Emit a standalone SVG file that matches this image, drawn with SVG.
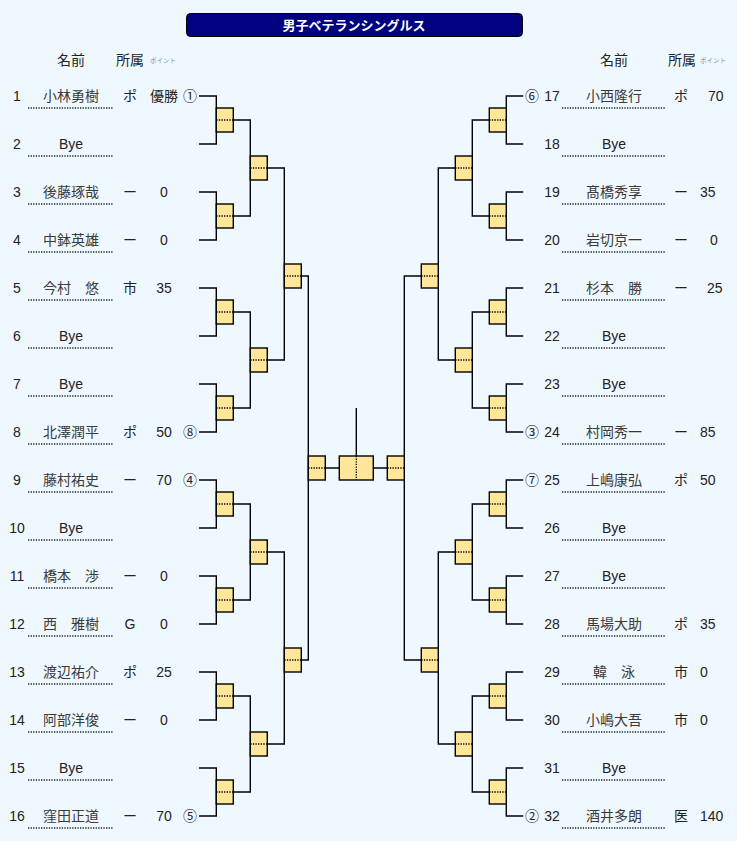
<svg xmlns="http://www.w3.org/2000/svg" width="737" height="841" viewBox="0 0 737 841">
<style>
.ln{fill:none;stroke:#000;stroke-width:1.4}
.bx{fill:#FFE699;stroke:#000;stroke-width:1.4}
.dt{stroke:#000;stroke-width:1.3;stroke-dasharray:1.3 1.3}
.ul{stroke:#222;stroke-width:1.3;stroke-dasharray:1.3 1.3}
.t{font-family:"Liberation Sans","Noto Sans CJK JP",sans-serif;font-size:14px;fill:#222}
.c{text-anchor:middle}
.nm{text-anchor:middle;fill:#3a3a3a}
.hd{font-family:"Liberation Sans","Noto Sans CJK JP",sans-serif;font-size:14px;fill:#222;text-anchor:middle}
.pt{font-family:"Noto Sans CJK JP",sans-serif;font-size:6.5px;fill:#7a8aa8}
.ttl{font-family:"Noto Sans CJK JP",sans-serif;font-size:13px;font-weight:bold;fill:#fff;text-anchor:middle}
</style>
<rect x="0" y="0" width="737" height="841" fill="#F0F8FF"/>
<g id="title">
<rect x="186.5" y="13.5" width="336" height="23" rx="4" fill="#000080" stroke="#000" stroke-width="1"/>
<text class="ttl" x="354" y="30">男子ベテランシングルス</text>
</g>
<g id="header-left">
<text class="hd" x="71" y="65">名前</text>
<text class="hd" x="130" y="65">所属</text>
<text class="pt" x="150" y="62.5">ポイント</text>
</g>
<g id="header-right">
<text class="hd" x="614" y="65">名前</text>
<text class="hd" x="682" y="65">所属</text>
<text class="pt" x="700" y="62.5">ポイント</text>
</g>
<g id="connectors">
<path class="ln" d="M199 96H216.3V144H199M199 192H216.3V240H199M199 288H216.3V336H199M199 384H216.3V432H199M199 480H216.3V528H199M199 576H216.3V624H199M199 672H216.3V720H199M199 768H216.3V816H199"/>
<path class="ln" d="M233.3 120H250.3V216H233.3M233.3 312H250.3V408H233.3M233.3 504H250.3V600H233.3M233.3 696H250.3V792H233.3"/>
<path class="ln" d="M267.3 168H284.3V360H267.3M267.3 552H284.3V744H267.3"/>
<path class="ln" d="M301.3 276H308.3V660H301.3"/>
<path class="ln" d="M523.3 96H506.3V144H523.3M523.3 192H506.3V240H523.3M523.3 288H506.3V336H523.3M523.3 384H506.3V432H523.3M523.3 480H506.3V528H523.3M523.3 576H506.3V624H523.3M523.3 672H506.3V720H523.3M523.3 768H506.3V816H523.3"/>
<path class="ln" d="M489.3 120H472.3V216H489.3M489.3 312H472.3V408H489.3M489.3 504H472.3V600H489.3M489.3 696H472.3V792H489.3"/>
<path class="ln" d="M455.3 168H438.3V360H455.3M455.3 552H438.3V744H455.3"/>
<path class="ln" d="M421.3 276H404.3V660H421.3"/>
<path class="ln" d="M325.3 468H339.3M373.3 468H387.3M356.3 408V456"/>
</g>
<g id="matches-left">
<g id="mL1-1"><rect class="bx" x="216.3" y="108" width="17" height="24"/><line class="dt" x1="216.3" y1="120" x2="233.3" y2="120"/></g>
<g id="mL1-2"><rect class="bx" x="216.3" y="204" width="17" height="24"/><line class="dt" x1="216.3" y1="216" x2="233.3" y2="216"/></g>
<g id="mL1-3"><rect class="bx" x="216.3" y="300" width="17" height="24"/><line class="dt" x1="216.3" y1="312" x2="233.3" y2="312"/></g>
<g id="mL1-4"><rect class="bx" x="216.3" y="396" width="17" height="24"/><line class="dt" x1="216.3" y1="408" x2="233.3" y2="408"/></g>
<g id="mL1-5"><rect class="bx" x="216.3" y="492" width="17" height="24"/><line class="dt" x1="216.3" y1="504" x2="233.3" y2="504"/></g>
<g id="mL1-6"><rect class="bx" x="216.3" y="588" width="17" height="24"/><line class="dt" x1="216.3" y1="600" x2="233.3" y2="600"/></g>
<g id="mL1-7"><rect class="bx" x="216.3" y="684" width="17" height="24"/><line class="dt" x1="216.3" y1="696" x2="233.3" y2="696"/></g>
<g id="mL1-8"><rect class="bx" x="216.3" y="780" width="17" height="24"/><line class="dt" x1="216.3" y1="792" x2="233.3" y2="792"/></g>
<g id="mL2-1"><rect class="bx" x="250.3" y="156" width="17" height="24"/><line class="dt" x1="250.3" y1="168" x2="267.3" y2="168"/></g>
<g id="mL2-2"><rect class="bx" x="250.3" y="348" width="17" height="24"/><line class="dt" x1="250.3" y1="360" x2="267.3" y2="360"/></g>
<g id="mL2-3"><rect class="bx" x="250.3" y="540" width="17" height="24"/><line class="dt" x1="250.3" y1="552" x2="267.3" y2="552"/></g>
<g id="mL2-4"><rect class="bx" x="250.3" y="732" width="17" height="24"/><line class="dt" x1="250.3" y1="744" x2="267.3" y2="744"/></g>
<g id="mL3-1"><rect class="bx" x="284.3" y="264" width="17" height="24"/><line class="dt" x1="284.3" y1="276" x2="301.3" y2="276"/></g>
<g id="mL3-2"><rect class="bx" x="284.3" y="648" width="17" height="24"/><line class="dt" x1="284.3" y1="660" x2="301.3" y2="660"/></g>
<g id="mLSF"><rect class="bx" x="308.3" y="456" width="17" height="24"/><line class="dt" x1="308.3" y1="468" x2="325.3" y2="468"/></g>
</g>
<g id="final"><rect class="bx" x="339.3" y="456" width="34" height="24"/><line class="dt" x1="356.3" y1="456" x2="356.3" y2="480"/></g>
<g id="matches-right">
<g id="mR1-1"><rect class="bx" x="489.3" y="108" width="17" height="24"/><line class="dt" x1="489.3" y1="120" x2="506.3" y2="120"/></g>
<g id="mR1-2"><rect class="bx" x="489.3" y="204" width="17" height="24"/><line class="dt" x1="489.3" y1="216" x2="506.3" y2="216"/></g>
<g id="mR1-3"><rect class="bx" x="489.3" y="300" width="17" height="24"/><line class="dt" x1="489.3" y1="312" x2="506.3" y2="312"/></g>
<g id="mR1-4"><rect class="bx" x="489.3" y="396" width="17" height="24"/><line class="dt" x1="489.3" y1="408" x2="506.3" y2="408"/></g>
<g id="mR1-5"><rect class="bx" x="489.3" y="492" width="17" height="24"/><line class="dt" x1="489.3" y1="504" x2="506.3" y2="504"/></g>
<g id="mR1-6"><rect class="bx" x="489.3" y="588" width="17" height="24"/><line class="dt" x1="489.3" y1="600" x2="506.3" y2="600"/></g>
<g id="mR1-7"><rect class="bx" x="489.3" y="684" width="17" height="24"/><line class="dt" x1="489.3" y1="696" x2="506.3" y2="696"/></g>
<g id="mR1-8"><rect class="bx" x="489.3" y="780" width="17" height="24"/><line class="dt" x1="489.3" y1="792" x2="506.3" y2="792"/></g>
<g id="mR2-1"><rect class="bx" x="455.3" y="156" width="17" height="24"/><line class="dt" x1="455.3" y1="168" x2="472.3" y2="168"/></g>
<g id="mR2-2"><rect class="bx" x="455.3" y="348" width="17" height="24"/><line class="dt" x1="455.3" y1="360" x2="472.3" y2="360"/></g>
<g id="mR2-3"><rect class="bx" x="455.3" y="540" width="17" height="24"/><line class="dt" x1="455.3" y1="552" x2="472.3" y2="552"/></g>
<g id="mR2-4"><rect class="bx" x="455.3" y="732" width="17" height="24"/><line class="dt" x1="455.3" y1="744" x2="472.3" y2="744"/></g>
<g id="mR3-1"><rect class="bx" x="421.3" y="264" width="17" height="24"/><line class="dt" x1="421.3" y1="276" x2="438.3" y2="276"/></g>
<g id="mR3-2"><rect class="bx" x="421.3" y="648" width="17" height="24"/><line class="dt" x1="421.3" y1="660" x2="438.3" y2="660"/></g>
<g id="mRSF"><rect class="bx" x="387.3" y="456" width="17" height="24"/><line class="dt" x1="387.3" y1="468" x2="404.3" y2="468"/></g>
</g>
<g id="players-left">
<g id="p1"><text class="t c" x="17" y="101">1</text><text class="t nm" x="71" y="101">小林勇樹</text><line class="ul" x1="28" y1="108" x2="113" y2="108"/><text class="t c" x="130" y="101">ポ</text><text class="t c" x="164" y="101">優勝</text><text class="t c" x="190" y="101">①</text></g>
<g id="p2"><text class="t c" x="17" y="149">2</text><text class="t c" x="71" y="149">Bye</text><line class="ul" x1="28" y1="156" x2="113" y2="156"/></g>
<g id="p3"><text class="t c" x="17" y="197">3</text><text class="t nm" x="71" y="197">後藤琢哉</text><line class="ul" x1="28" y1="204" x2="113" y2="204"/><text class="t c" x="130" y="197">ー</text><text class="t c" x="164" y="197">0</text></g>
<g id="p4"><text class="t c" x="17" y="245">4</text><text class="t nm" x="71" y="245">中鉢英雄</text><line class="ul" x1="28" y1="252" x2="113" y2="252"/><text class="t c" x="130" y="245">ー</text><text class="t c" x="164" y="245">0</text></g>
<g id="p5"><text class="t c" x="17" y="293">5</text><text class="t nm" x="71" y="293">今村　悠</text><line class="ul" x1="28" y1="300" x2="113" y2="300"/><text class="t c" x="130" y="293">市</text><text class="t c" x="164" y="293">35</text></g>
<g id="p6"><text class="t c" x="17" y="341">6</text><text class="t c" x="71" y="341">Bye</text><line class="ul" x1="28" y1="348" x2="113" y2="348"/></g>
<g id="p7"><text class="t c" x="17" y="389">7</text><text class="t c" x="71" y="389">Bye</text><line class="ul" x1="28" y1="396" x2="113" y2="396"/></g>
<g id="p8"><text class="t c" x="17" y="437">8</text><text class="t nm" x="71" y="437">北澤潤平</text><line class="ul" x1="28" y1="444" x2="113" y2="444"/><text class="t c" x="130" y="437">ポ</text><text class="t c" x="164" y="437">50</text><text class="t c" x="190" y="437">⑧</text></g>
<g id="p9"><text class="t c" x="17" y="485">9</text><text class="t nm" x="71" y="485">藤村祐史</text><line class="ul" x1="28" y1="492" x2="113" y2="492"/><text class="t c" x="130" y="485">ー</text><text class="t c" x="164" y="485">70</text><text class="t c" x="190" y="485">④</text></g>
<g id="p10"><text class="t c" x="17" y="533">10</text><text class="t c" x="71" y="533">Bye</text><line class="ul" x1="28" y1="540" x2="113" y2="540"/></g>
<g id="p11"><text class="t c" x="17" y="581">11</text><text class="t nm" x="71" y="581">橋本　渉</text><line class="ul" x1="28" y1="588" x2="113" y2="588"/><text class="t c" x="130" y="581">ー</text><text class="t c" x="164" y="581">0</text></g>
<g id="p12"><text class="t c" x="17" y="629">12</text><text class="t nm" x="71" y="629">西　雅樹</text><line class="ul" x1="28" y1="636" x2="113" y2="636"/><text class="t c" x="130" y="629">G</text><text class="t c" x="164" y="629">0</text></g>
<g id="p13"><text class="t c" x="17" y="677">13</text><text class="t nm" x="71" y="677">渡辺祐介</text><line class="ul" x1="28" y1="684" x2="113" y2="684"/><text class="t c" x="130" y="677">ポ</text><text class="t c" x="164" y="677">25</text></g>
<g id="p14"><text class="t c" x="17" y="725">14</text><text class="t nm" x="71" y="725">阿部洋俊</text><line class="ul" x1="28" y1="732" x2="113" y2="732"/><text class="t c" x="130" y="725">ー</text><text class="t c" x="164" y="725">0</text></g>
<g id="p15"><text class="t c" x="17" y="773">15</text><text class="t c" x="71" y="773">Bye</text><line class="ul" x1="28" y1="780" x2="113" y2="780"/></g>
<g id="p16"><text class="t c" x="17" y="821">16</text><text class="t nm" x="71" y="821">窪田正道</text><line class="ul" x1="28" y1="828" x2="113" y2="828"/><text class="t c" x="130" y="821">ー</text><text class="t c" x="164" y="821">70</text><text class="t c" x="190" y="821">⑤</text></g>
</g>
<g id="players-right">
<g id="p17"><text class="t c" x="532" y="101">⑥</text><text class="t c" x="552" y="101">17</text><text class="t nm" x="614" y="101">小西隆行</text><line class="ul" x1="562" y1="108" x2="665" y2="108"/><text class="t c" x="681" y="101">ポ</text><text class="t" x="708" y="101">70</text></g>
<g id="p18"><text class="t c" x="552" y="149">18</text><text class="t c" x="614" y="149">Bye</text><line class="ul" x1="562" y1="156" x2="665" y2="156"/></g>
<g id="p19"><text class="t c" x="552" y="197">19</text><text class="t nm" x="614" y="197">髙橋秀享</text><line class="ul" x1="562" y1="204" x2="665" y2="204"/><text class="t c" x="681" y="197">ー</text><text class="t" x="700" y="197">35</text></g>
<g id="p20"><text class="t c" x="552" y="245">20</text><text class="t nm" x="614" y="245">岩切京一</text><line class="ul" x1="562" y1="252" x2="665" y2="252"/><text class="t c" x="681" y="245">ー</text><text class="t" x="710" y="245">0</text></g>
<g id="p21"><text class="t c" x="552" y="293">21</text><text class="t nm" x="614" y="293">杉本　勝</text><line class="ul" x1="562" y1="300" x2="665" y2="300"/><text class="t c" x="681" y="293">ー</text><text class="t" x="707" y="293">25</text></g>
<g id="p22"><text class="t c" x="552" y="341">22</text><text class="t c" x="614" y="341">Bye</text><line class="ul" x1="562" y1="348" x2="665" y2="348"/></g>
<g id="p23"><text class="t c" x="552" y="389">23</text><text class="t c" x="614" y="389">Bye</text><line class="ul" x1="562" y1="396" x2="665" y2="396"/></g>
<g id="p24"><text class="t c" x="532" y="437">③</text><text class="t c" x="552" y="437">24</text><text class="t nm" x="614" y="437">村岡秀一</text><line class="ul" x1="562" y1="444" x2="665" y2="444"/><text class="t c" x="681" y="437">ー</text><text class="t" x="700" y="437">85</text></g>
<g id="p25"><text class="t c" x="532" y="485">⑦</text><text class="t c" x="552" y="485">25</text><text class="t nm" x="614" y="485">上嶋康弘</text><line class="ul" x1="562" y1="492" x2="665" y2="492"/><text class="t c" x="681" y="485">ポ</text><text class="t" x="700" y="485">50</text></g>
<g id="p26"><text class="t c" x="552" y="533">26</text><text class="t c" x="614" y="533">Bye</text><line class="ul" x1="562" y1="540" x2="665" y2="540"/></g>
<g id="p27"><text class="t c" x="552" y="581">27</text><text class="t c" x="614" y="581">Bye</text><line class="ul" x1="562" y1="588" x2="665" y2="588"/></g>
<g id="p28"><text class="t c" x="552" y="629">28</text><text class="t nm" x="614" y="629">馬場大助</text><line class="ul" x1="562" y1="636" x2="665" y2="636"/><text class="t c" x="681" y="629">ポ</text><text class="t" x="700" y="629">35</text></g>
<g id="p29"><text class="t c" x="552" y="677">29</text><text class="t nm" x="614" y="677">韓　泳</text><line class="ul" x1="562" y1="684" x2="665" y2="684"/><text class="t c" x="681" y="677">市</text><text class="t" x="700" y="677">0</text></g>
<g id="p30"><text class="t c" x="552" y="725">30</text><text class="t nm" x="614" y="725">小嶋大吾</text><line class="ul" x1="562" y1="732" x2="665" y2="732"/><text class="t c" x="681" y="725">市</text><text class="t" x="700" y="725">0</text></g>
<g id="p31"><text class="t c" x="552" y="773">31</text><text class="t c" x="614" y="773">Bye</text><line class="ul" x1="562" y1="780" x2="665" y2="780"/></g>
<g id="p32"><text class="t c" x="532" y="821">②</text><text class="t c" x="552" y="821">32</text><text class="t nm" x="614" y="821">酒井多朗</text><line class="ul" x1="562" y1="828" x2="665" y2="828"/><text class="t c" x="681" y="821">医</text><text class="t" x="700" y="821">140</text></g>
</g>
</svg>
